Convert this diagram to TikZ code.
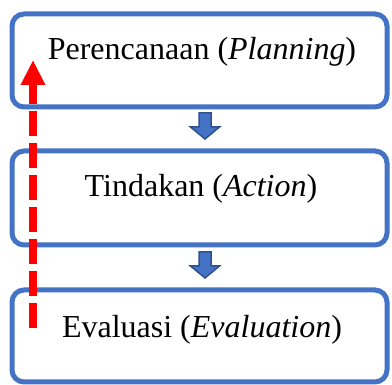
\documentclass[tikz,border=0pt]{standalone}
\usepackage{fontspec}
\setmainfont{Liberation Serif}
\usetikzlibrary{arrows.meta}
\definecolor{boxblue}{HTML}{4472C4}
\definecolor{darkblue}{HTML}{2F528F}
\definecolor{arrred}{HTML}{FF0000}
\begin{document}
\begin{tikzpicture}[x=1pt,y=-1pt,
  stagebox/.style={draw=boxblue, line width=5pt, rounded corners=12pt,
    minimum width=375pt, inner sep=0pt, outer sep=0pt},
  stagetext/.style={font=\fontsize{32}{38}\selectfont, anchor=base, inner sep=0pt},
  downarrow/.pic={
    \fill[boxblue, draw=darkblue, line width=1.5pt, line join=miter]
      (-6,0) -- (6,0) -- (6,14) -- (14.5,14) -- (0,26) -- (-14.5,14) -- (-6,14) -- cycle;
  },
  backarrow/.style={draw=arrred, line width=8pt, dash pattern=on 25pt off 7pt,
    -{Triangle[width=23pt,length=25pt]}}
]
\useasboundingbox (0,0) rectangle (392,385);

\node[stagebox, minimum height=93pt] (b1) at (199.5,60.5) {};
\node[stagebox, minimum height=94pt] (b2) at (199.5,198) {};
\node[stagebox, minimum height=92pt] (b3) at (199.5,336) {};

\node[stagetext] (t1) at (202,60) {Perencanaan (\textit{Planning})};
\node[stagetext] (t2) at (201,197) {Tindakan (\textit{Action})};
\node[stagetext] (t3) at (202,338) {Evaluasi (\textit{Evaluation})};

\pic (p1) at (205,113) {downarrow};
\pic (p2) at (205,252) {downarrow};

\coordinate (rs) at (33,328);
\coordinate (re) at (33,60);
\draw[backarrow] (rs) -- (re);
\end{tikzpicture}
\end{document}
